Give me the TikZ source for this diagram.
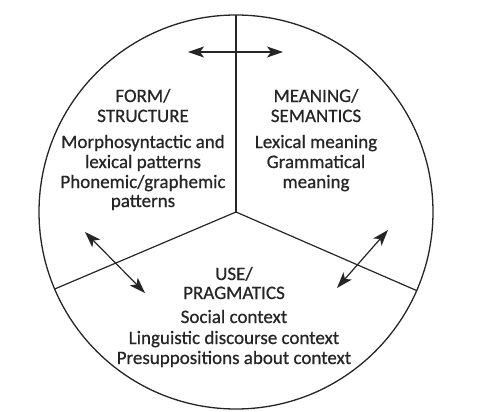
\documentclass[tikz,border=0pt]{standalone}
\usepackage{fontspec}
\newfontfamily\diagfont{Carlito}[FakeBold=0.6]
\usetikzlibrary{arrows.meta}
\definecolor{ink}{HTML}{262626}
\begin{document}
\begin{tikzpicture}[x=1pt,y=-1pt,
  txt/.style={inner sep=0pt, anchor=base, text=ink, font=\diagfont\fontsize{19}{22}\selectfont},
  divline/.style={draw=ink, line width=1.2pt},
  dbl/.style={draw=ink, line width=1.2pt, {Stealth[length=16pt,width=11pt,inset=4pt]}-{Stealth[length=16pt,width=11pt,inset=4pt]}}]
\useasboundingbox (0,0) rectangle (479,412);
\fill[white] (0,0) rectangle (479,412);
% circle and dividers
\coordinate (c) at (236,212);
\node[circle, draw=ink, line width=1.3pt, minimum size=394pt, inner sep=0pt] (circ) at (c) {};
\coordinate (top) at (236,15);
\coordinate (le) at (54.7,289);
\coordinate (re) at (416.7,290.6);
\draw[divline] (c) -- (top);
\draw[divline] (c) -- (le);
\draw[divline] (c) -- (re);
% arrows
\coordinate (a1) at (188,52);
\coordinate (a2) at (283,52);
\coordinate (b1) at (85,232);
\coordinate (b2) at (145,293);
\coordinate (d1) at (388,230);
\coordinate (d2) at (337,288);
\draw[dbl] (a1) -- (a2);
\draw[dbl] (b1) -- (b2);
\draw[dbl] (d1) -- (d2);
% form / structure
\node[txt] (f1) at (143,102) {FORM/};
\node[txt] (f2) at (143,122) {STRUCTURE};
\node[txt] (f3) at (143,148) {Morphosyntactic and};
\node[txt] (f4) at (143,168) {lexical patterns};
\node[txt] (f5) at (143,188) {Phonemic/graphemic};
\node[txt] (f6) at (143,207) {patterns};
% meaning / semantics
\node[txt] (m1) at (316,102) {MEANING/};
\node[txt] (m2) at (316,122) {SEMANTICS};
\node[txt] (m3) at (316,148) {Lexical meaning};
\node[txt] (m4) at (316,168) {Grammatical};
\node[txt] (m5) at (316,188) {meaning};
% use / pragmatics
\node[txt] (u1) at (234,280) {USE/};
\node[txt] (u2) at (234,299) {PRAGMATICS};
\node[txt] (u3) at (234,323) {Social context};
\node[txt] (u4) at (234,344) {Linguistic discourse context};
\node[txt] (u5) at (234,364) {Presuppositions about context};
\end{tikzpicture}
\end{document}
